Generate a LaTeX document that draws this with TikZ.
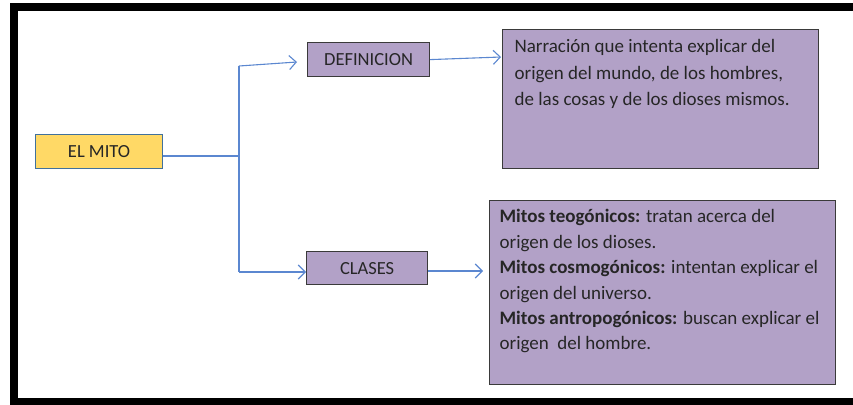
\documentclass[tikz,border=0pt]{standalone}
\usepackage{fontspec}
\setmainfont{Carlito}
\usetikzlibrary{arrows.meta}
\definecolor{boxpurple}{HTML}{B2A1C7}
\definecolor{boxyellow}{HTML}{FFD966}
\definecolor{arrowblue}{HTML}{5B87D0}
\definecolor{edgegrey}{HTML}{3A3A3A}
\definecolor{edgeblue}{HTML}{41719C}
\tikzset{
  labelbox/.style={draw=edgegrey, line width=1.2pt, fill=boxpurple, anchor=north west,
    inner sep=0pt, font=\fontsize{18.5}{22}\selectfont, text=black!85},
  textbox/.style={draw=edgegrey, line width=1.2pt, fill=boxpurple, anchor=north west,
    inner sep=0pt, text=black!85},
  conn/.style={draw=arrowblue, line width=1.1pt},
  arr/.style={conn, -{Straight Barb[length=7pt, width=14pt, line width=1.1pt]}}
}
\begin{document}
\begin{tikzpicture}[x=1pt, y=-1pt]
\useasboundingbox (0,0) rectangle (853,404);
\clip (0,0) rectangle (853,404);
% frame
\draw[line width=7.6pt, black] (14,7) rectangle (880,402);
% nodes
\node[draw=edgeblue, line width=1.2pt, fill=boxyellow, anchor=north west, inner sep=0pt,
  minimum width=127pt, minimum height=34pt, font=\fontsize{18.5}{22}\selectfont, text=black!85]
  (mito) at (35,134) {EL MITO};
\node[labelbox, minimum width=122pt, minimum height=34pt] (def) at (307,42) {DEFINICION};
\node[labelbox, minimum width=121pt, minimum height=33pt] (cla) at (306,251) {CLASES};
\node[textbox, minimum width=316pt, minimum height=139pt] (deftxt) at (502,29)
  {\parbox[c][139pt][t]{316pt}{\vspace{10pt}\hspace*{12pt}\parbox[t]{302pt}{\fontsize{19}{26.5}\selectfont\raggedright
  Narración que intenta explicar del\\
  origen del mundo, de los hombres,\\
  de las cosas y de los dioses mismos.}}};
\node[textbox, minimum width=346pt, minimum height=184pt] (clatxt) at (489,200)
  {\parbox[c][184pt][t]{346pt}{\vspace{9pt}\hspace*{10pt}\parbox[t]{336pt}{\fontsize{19}{25.4}\selectfont\raggedright
  \textbf{Mitos teogónicos:} tratan acerca del\\
  origen de los dioses.\\
  \textbf{Mitos cosmogónicos:} intentan explicar el\\
  origen del universo.\\
  \textbf{Mitos antropogónicos:} buscan explicar el\\
  origen\ \ del hombre.}}};
% connectors
\coordinate (j) at (239,156);
\coordinate (jt) at (239,66);
\coordinate (jb) at (239,272);
\coordinate (dtip) at (297,62);
\coordinate (ctip) at (306,272);
\coordinate (d2tip) at (501,57);
\coordinate (c2tip) at (483,271);
\draw[conn] (mito.east |- j) -- (j);
\draw[conn] (jt) -- (jb);
\draw[arr] (jt) -- (dtip);
\draw[arr] (jb) -- (ctip);
\draw[arr] (def.east) -- (d2tip);
\draw[arr] (cla.east |- c2tip) -- (c2tip);
\end{tikzpicture}
\end{document}
